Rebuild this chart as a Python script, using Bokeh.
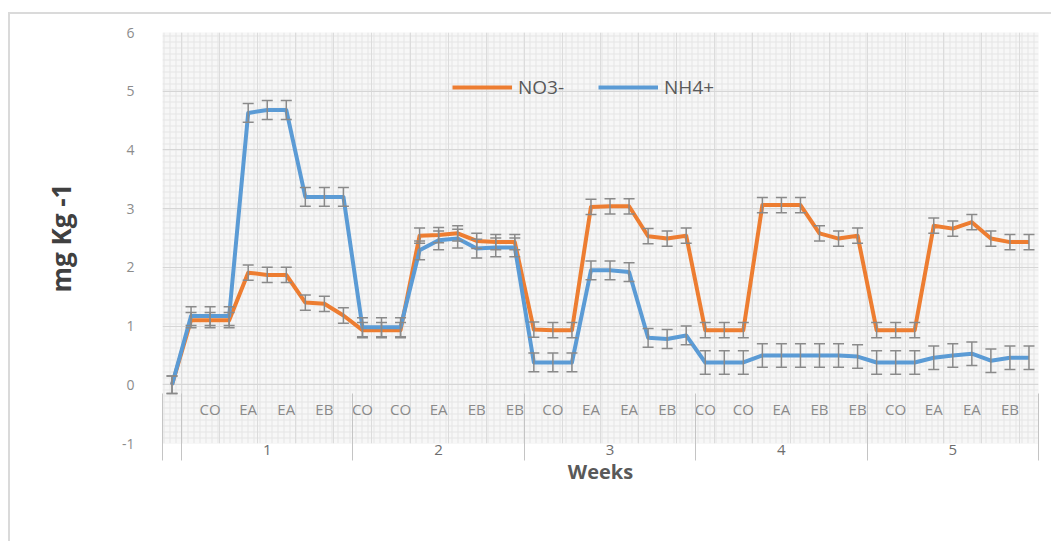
from bokeh.plotting import figure
from bokeh.models import (Range1d, FixedTicker, BoxAnnotation, Whisker, TeeHead,
                          ColumnDataSource, Legend)
from bokeh.core.properties import value
from bokeh.embed import file_html
from bokeh.resources import INLINE

# ---- data ----
weeks = ["1", "2", "3", "4", "5"]
treatments = ["CO", "CO", "CO", "EA", "EA", "EA", "EB", "EB", "EB"]
categories = [""] + treatments * len(weeks)

no3 = [0.00,
       1.10, 1.10, 1.10, 1.91, 1.87, 1.87, 1.40, 1.38, 1.18,
       0.93, 0.93, 0.93, 2.54, 2.55, 2.58, 2.45, 2.43, 2.43,
       0.94, 0.93, 0.93, 3.03, 3.04, 3.04, 2.53, 2.49, 2.54,
       0.93, 0.93, 0.93, 3.06, 3.06, 3.06, 2.58, 2.49, 2.54,
       0.93, 0.93, 0.93, 2.71, 2.66, 2.77, 2.49, 2.43, 2.43]
nh4 = [0.00,
       1.17, 1.17, 1.17, 4.63, 4.68, 4.68, 3.20, 3.20, 3.20,
       0.98, 0.98, 0.98, 2.29, 2.46, 2.49, 2.32, 2.34, 2.34,
       0.38, 0.38, 0.38, 1.95, 1.95, 1.92, 0.80, 0.78, 0.84,
       0.38, 0.38, 0.38, 0.50, 0.50, 0.50, 0.50, 0.50, 0.48,
       0.38, 0.38, 0.38, 0.46, 0.50, 0.53, 0.41, 0.46, 0.46]
no3_err = [0.15] + [0.13] * 45
nh4_err = [0.15] + [0.16] * 27 + [0.20] * 18

y_ticks = [-1, 0, 1, 2, 3, 4, 5, 6]

# ---- derived ----
n = len(categories)
xs = list(range(n))
per_week = len(treatments)
week_centers = [1 + w * per_week + (per_week - 1) / 2 for w in range(len(weeks))]
separators = [-0.5, 0.5] + [0.5 + (w + 1) * per_week for w in range(len(weeks))]
label_idx = list(range(2, n, 2))

src = ColumnDataSource(dict(
    x=xs, no3=no3, nh4=nh4,
    no3_u=[v + e for v, e in zip(no3, no3_err)], no3_l=[v - e for v, e in zip(no3, no3_err)],
    nh4_u=[v + e for v, e in zip(nh4, nh4_err)], nh4_l=[v - e for v, e in zip(nh4, nh4_err)],
))

FONT = "Open Sans"
ORANGE = "#ED7D31"
BLUE = "#5B9BD5"
ERR = "#8a8a8a"

p = figure(width=1043, height=529, x_range=Range1d(-0.5, n - 0.5), y_range=Range1d(-1, 6),
           output_backend="svg", toolbar_location=None,
           min_border_left=152, min_border_right=15, min_border_top=18, min_border_bottom=100)
p.styles = {"margin-left": "8px", "margin-top": "12px",
            "border-left": "2px solid #dadada", "border-top": "2px solid #dadada"}
p.outline_line_color = None
p.background_fill_color = "#f7f7f7"
p.border_fill_color = "white"

# patterned plot area
p.add_layout(BoxAnnotation(fill_color="#f7f7f7", fill_alpha=1.0, line_color=None,
                           hatch_pattern="+", hatch_color="#e5e5e5", hatch_scale=6,
                           hatch_weight=1, level="image"))

# grids
p.ygrid.ticker = FixedTicker(ticks=y_ticks)
p.ygrid.grid_line_color = "#d6d6d6"
p.ygrid.grid_line_width = 1
p.xgrid.ticker = FixedTicker(ticks=[i + 0.5 for i in range(0, n, 2)])
p.xgrid.grid_line_color = "#dcdcdc"
p.xgrid.grid_line_width = 1

# y axis
p.yaxis.ticker = FixedTicker(ticks=y_ticks)
p.yaxis.major_label_overrides = {t: str(t) for t in y_ticks}
p.yaxis.axis_line_color = None
p.yaxis.major_tick_line_color = None
p.yaxis.minor_tick_line_color = None
p.yaxis.major_tick_out = 0
p.yaxis.major_tick_in = 0
p.yaxis.major_label_text_font = FONT
p.yaxis.major_label_text_font_size = "14px"
p.yaxis.major_label_text_color = "#8c8c8c"
p.yaxis.major_label_standoff = 28
p.yaxis.axis_label = "mg Kg -1"
p.yaxis.axis_label_text_font = FONT
p.yaxis.axis_label_text_font_size = "26px"
p.yaxis.axis_label_text_font_style = "bold"
p.yaxis.axis_label_text_color = "#404040"
p.yaxis.axis_label_standoff = 40

# x axis: weeks with separators
p.xaxis.ticker = FixedTicker(ticks=week_centers, minor_ticks=separators)
p.xaxis.major_label_overrides = {c: w for c, w in zip(week_centers, weeks)}
p.xaxis.axis_line_color = None
p.xaxis.major_tick_line_color = None
p.xaxis.major_tick_out = 0
p.xaxis.major_tick_in = 0
p.xaxis.minor_tick_line_color = "#c4c4c4"
p.xaxis.minor_tick_in = 50
p.xaxis.minor_tick_out = 17
p.xaxis.major_label_standoff = -16
p.xaxis.major_label_text_font = FONT
p.xaxis.major_label_text_font_size = "15px"
p.xaxis.major_label_text_color = "#6e6e6e"
p.xaxis.axis_label = "Weeks"
p.xaxis.axis_label_text_font = FONT
p.xaxis.axis_label_text_font_size = "20px"
p.xaxis.axis_label_text_font_style = "bold"
p.xaxis.axis_label_text_color = "#595959"
p.xaxis.axis_label_standoff = 0

# category labels inside the plot area
lab_src = ColumnDataSource(dict(x=label_idx, y=[-0.41] * len(label_idx),
                                t=[categories[i] for i in label_idx]))
p.text(x="x", y="y", text="t", source=lab_src, text_font=value(FONT),
       text_font_size="15px", text_color="#8a8a8a", text_align="center",
       text_baseline="middle")

# lines
r1 = p.line("x", "no3", source=src, line_color=ORANGE, line_width=4, line_join="round")
r2 = p.line("x", "nh4", source=src, line_color=BLUE, line_width=4, line_join="round")

# error bars
for u, l in (("no3_u", "no3_l"), ("nh4_u", "nh4_l")):
    p.add_layout(Whisker(source=src, base="x", upper=u, lower=l, line_color=ERR, line_width=1.5,
                         upper_head=TeeHead(size=11, line_color=ERR, line_width=1.5),
                         lower_head=TeeHead(size=11, line_color=ERR, line_width=1.5),
                         level="overlay"))

legend = Legend(items=[("NO3-", [r1]), ("NH4+", [r2])], orientation="horizontal",
                location=(290, 343), glyph_width=60, glyph_height=20, label_standoff=6,
                spacing=34, padding=0, margin=0, background_fill_alpha=0,
                border_line_color=None, label_text_font=FONT, label_text_font_size="19px",
                label_text_color="#595959")
p.add_layout(legend)

open("out.html", "w").write(file_html(p, INLINE))
